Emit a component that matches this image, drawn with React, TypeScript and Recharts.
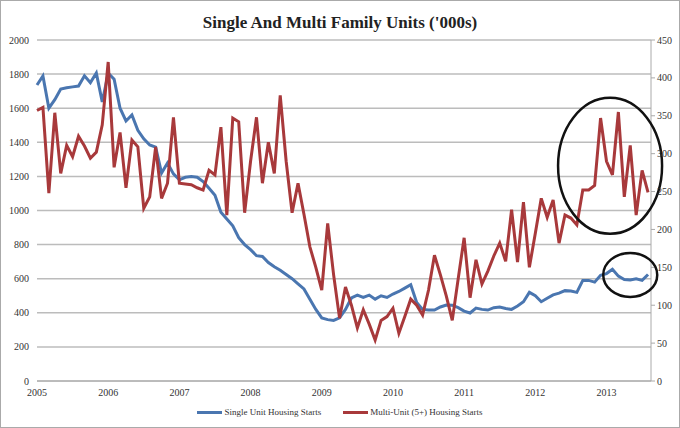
import React from "react";
import {
  LineChart,
  Line,
  XAxis,
  YAxis,
  CartesianGrid,
  Legend,
  ReferenceDot,
} from "recharts";

// monthly, Jan 2005 .. Aug 2013
const YEARS = ["2005", "2006", "2007", "2008", "2009", "2010", "2011", "2012", "2013"];

// left axis, thousands
const singleUnit = [
  1736, 1789, 1600, 1650, 1712, 1720, 1725, 1730, 1790, 1750, 1806, 1636,
  1806, 1770, 1600, 1525, 1560, 1470, 1420, 1384, 1372, 1220, 1279, 1215,
  1180, 1195, 1200, 1195, 1170, 1130, 1090, 990, 950, 910, 840, 800,
  770, 735, 730, 695, 670, 650, 625, 600, 570, 540, 480, 420,
  370, 360, 355, 370, 420, 487, 504, 490, 504, 480, 500, 490,
  510, 525, 545, 565, 460, 420, 416, 416, 434, 446, 445, 430,
  410, 399, 428, 420, 416, 430, 434, 425, 420, 440, 465, 520,
  500, 465, 485, 505, 515, 530, 528, 520, 590, 590, 580, 620,
  630, 655, 615, 595, 592, 600, 590, 625,
];

// right axis, thousands
const multiUnit = [
  357, 361, 248, 354, 274, 311, 296, 323, 310, 294, 302, 338,
  421, 282, 328, 255, 318, 309, 228, 243, 309, 241, 261, 348,
  261, 260, 259, 255, 252, 278, 272, 335, 219, 347, 342, 222,
  290, 348, 261, 315, 274, 377, 290, 222, 261, 220, 177, 150,
  120, 208, 140, 83, 124, 100, 70, 94, 75, 54, 80, 85,
  96, 63, 85, 108, 100, 87, 120, 166, 140, 112, 80, 135,
  189, 110, 160, 128, 145, 165, 182, 158, 226, 157, 236, 150,
  195, 241, 216, 239, 182, 219, 215, 206, 252, 252, 258, 347,
  290, 272, 355, 243, 311, 219, 278, 249,
];

const leftTicks = [0, 200, 400, 600, 800, 1000, 1200, 1400, 1600, 1800, 2000];
const rightTicks = [0, 50, 100, 150, 200, 250, 300, 350, 400, 450];
const yearTicks = YEARS.map((_, k) => k * 12);

const data = singleUnit.map((s, i) => ({ i, single: s, multi: multiUnit[i] }));

const FONT = "'Liberation Serif', 'Times New Roman', serif";
const BLUE = "#4a76b0";
const RED = "#a8393b";

const LegendBox = () => (
  <div
    style={{
      height: 20,
      display: "flex",
      justifyContent: "center",
      alignItems: "center",
      fontFamily: FONT,
      fontSize: 9,
      color: "#333",
    }}
  >
    <span style={{ display: "inline-block", width: 25, height: 3, background: BLUE, marginRight: 2 }} />
    <span style={{ marginRight: 22 }}>Single Unit Housing Starts</span>
    <span style={{ display: "inline-block", width: 25, height: 3, background: RED, marginRight: 2 }} />
    <span>Multi-Unit (5+) Housing Starts</span>
  </div>
);

const Ellipse = (rx: number, ry: number) => (p: any) =>
  (
    <ellipse cx={p.cx} cy={p.cy} rx={rx} ry={ry} fill="none" stroke="#111" strokeWidth={2.5} />
  );

export default function App() {
  return (
    <div
      style={{
        position: "absolute",
        left: 0,
        top: 0,
        width: 680,
        height: 428,
        background: "#fff",
      }}
    >
      <div
        style={{
          position: "absolute",
          top: 13,
          width: 680,
          textAlign: "center",
          fontFamily: FONT,
          fontWeight: "bold",
          fontSize: 17,
          color: "#222",
        }}
      >
        Single And Multi Family Units ('000s)
      </div>
      <LineChart
        width={680}
        height={428}
        data={data}
        margin={{ top: 40, right: 0, left: 0, bottom: 6 }}
      >
        <CartesianGrid yAxisId="left" vertical={false} stroke="#bcbcbc" strokeWidth={1.5} />
        <XAxis
          dataKey="i"
          type="number"
          domain={[0, 103.5]}
          ticks={yearTicks}
          tickFormatter={(v: number) => YEARS[Math.round(v / 12)]}
          height={21}
          tickLine={false}
          axisLine={{ stroke: "#aaa" }}
          tick={{ fontFamily: FONT, fontSize: 10, fill: "#333" }}
        />
        <YAxis
          yAxisId="left"
          domain={[0, 2000]}
          ticks={leftTicks}
          width={37}
          axisLine={false}
          tickLine={false}
          tick={{ fontFamily: FONT, fontSize: 10, fill: "#333" }}
        />
        <YAxis
          yAxisId="right"
          orientation="right"
          domain={[0, 450]}
          ticks={rightTicks}
          width={29}
          tickSize={4}
          axisLine={{ stroke: "#aaa" }}
          tickLine={{ stroke: "#aaa" }}
          tick={{ fontFamily: FONT, fontSize: 10, fill: "#333" }}
        />
        <Legend verticalAlign="bottom" height={20} content={() => <LegendBox />} />
        <Line
          yAxisId="left"
          dataKey="single"
          stroke={BLUE}
          strokeWidth={3}
          dot={false}
          isAnimationActive={false}
        />
        <Line
          yAxisId="right"
          dataKey="multi"
          stroke={RED}
          strokeWidth={3}
          dot={false}
          isAnimationActive={false}
        />
        <ReferenceDot yAxisId="right" x={96.6} y={284} shape={Ellipse(52, 68)} />
        <ReferenceDot yAxisId="right" x={100} y={140} shape={Ellipse(27, 22)} />
      </LineChart>
      <div
        style={{
          position: "absolute",
          left: 0,
          top: 0,
          width: 680,
          height: 428,
          boxSizing: "border-box",
          border: "1px solid #aaa",
          pointerEvents: "none",
        }}
      />
    </div>
  );
}
